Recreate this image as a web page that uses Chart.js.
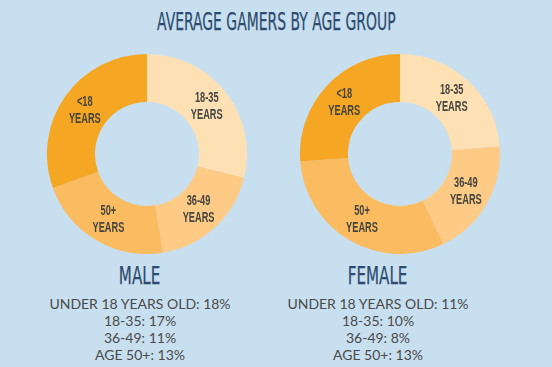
<!DOCTYPE html>
<html>
<head>
<meta charset="utf-8">
<script src="https://cdn.jsdelivr.net/npm/chart.js@4.4.0/dist/chart.umd.min.js"></script>
<style>
  html, body { margin: 0; padding: 0; }
  body { width: 552px; height: 367px; background: #c8dff0; position: relative; overflow: hidden; }
  .title { position: absolute; left: 0; width: 552px; top: 7px; text-align: center; }
  .title span, .gender span { display: inline-block; font-family: "Liberation Sans Narrow", "DejaVu Sans Condensed", sans-serif; color: #2d4b6e; transform-origin: center; -webkit-text-stroke: 0.25px #2d4b6e; }
  .title span { font-size: 25px; transform: scaleX(0.62); }
  .box { position: absolute; width: 200px; height: 200px; top: 54px; }
  .summary { position: absolute; top: 262px; width: 240px; text-align: center; }
  .gender span { font-size: 24px; transform: scaleX(0.7); }
  .gender { height: 33px; line-height: 28px; }
  .line { font-family: Lato, sans-serif; font-size: 14px; color: #4a4a4a; line-height: 17px; }
</style>
</head>
<body>
<div class="title"><span>AVERAGE GAMERS BY AGE GROUP</span></div>
<div class="box" style="left:47px"><canvas id="male_chart"></canvas></div>
<div class="box" style="left:300px"><canvas id="female_chart"></canvas></div>
<div class="summary" id="male_summary" style="left:20px"></div>
<div class="summary" id="female_summary" style="left:258px"></div>
<script>
(function() {
  'use strict';

  // slices go clockwise from 12 o'clock
  var AGE_GROUPS = ['18-35', '36-49', '50+', '<18'];
  var SLICE_LABELS = [['18-35', 'YEARS'], ['36-49', 'YEARS'], ['50+', 'YEARS'], ['<18', 'YEARS']];
  var MALE_VALUES = [17, 11, 13, 18];
  var FEMALE_VALUES = [10, 8, 13, 11];
  var SLICE_COLORS = ['#fee0b5', '#fdcb86', '#fbbb60', '#f5a623'];

  // summary lines below each chart, listed as index into AGE_GROUPS
  var SUMMARY_ORDER = [3, 0, 1, 2];
  var SUMMARY_NAMES = ['UNDER 18 YEARS OLD', '18-35', '36-49', 'AGE 50+'];

  var sliceLabelPlugin = {
    id: 'sliceLabels',
    afterDatasetsDraw: function(chart) {
      var ctx = chart.ctx;
      var meta = chart.getDatasetMeta(0);
      ctx.save();
      ctx.fillStyle = '#45443f';
      ctx.font = 'bold 14px "Liberation Sans Narrow", sans-serif';
      ctx.textAlign = 'center';
      ctx.textBaseline = 'middle';
      meta.data.forEach(function(arc, i) {
        var pos = arc.tooltipPosition();
        var lines = SLICE_LABELS[i];
        ctx.save();
        ctx.translate(pos.x, pos.y);
        ctx.scale(0.66, 1);
        ctx.fillText(lines[0], 0, -8.5);
        ctx.fillText(lines[1], 0, 8.5);
        ctx.restore();
      });
      ctx.restore();
    }
  };

  function buildChart(id, values) {
    var ctx = document.getElementById(id).getContext('2d');
    return new Chart(ctx, {
      type: 'doughnut',
      data: {
        labels: AGE_GROUPS,
        datasets: [{
          data: values,
          backgroundColor: SLICE_COLORS,
          borderWidth: 0
        }]
      },
      options: {
        responsive: true,
        maintainAspectRatio: false,
        animation: false,
        cutout: '52%',
        layout: { padding: 0 },
        plugins: {
          legend: { display: false },
          tooltip: { enabled: false }
        }
      },
      plugins: [sliceLabelPlugin]
    });
  }

  function buildSummary(id, gender, values) {
    var el = document.getElementById(id);
    var html = '<div class="gender"><span>' + gender + '</span></div>';
    SUMMARY_ORDER.forEach(function(idx, i) {
      html += '<div class="line">' + SUMMARY_NAMES[i] + ': ' + values[idx] + '%</div>';
    });
    el.innerHTML = html;
  }

  buildChart('male_chart', MALE_VALUES);
  buildChart('female_chart', FEMALE_VALUES);
  buildSummary('male_summary', 'MALE', MALE_VALUES);
  buildSummary('female_summary', 'FEMALE', FEMALE_VALUES);
}());
</script>
</body>
</html>
